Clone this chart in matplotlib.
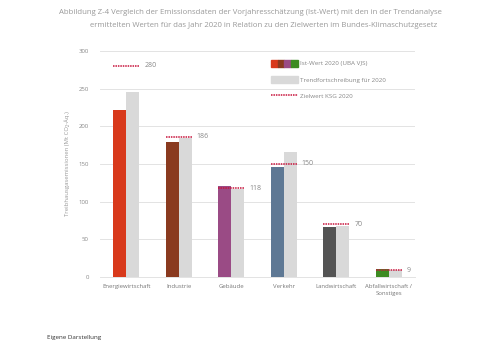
import matplotlib.pyplot as plt
from matplotlib.patches import Patch
from matplotlib.lines import Line2D
from matplotlib.legend_handler import HandlerTuple
import numpy as np

plt.rcParams['font.family'] = ['Open Sans', 'DejaVu Sans']

# Daten
sektoren = ['Energiewirtschaft', 'Industrie', 'Gebäude', 'Verkehr',
            'Landwirtschaft', 'Abfallwirtschaft /\nSonstiges']
ist_wert = [221, 179, 121, 146, 66, 11]
trend = [245, 184, 117, 166, 68, 10]
ziel = [280, 186, 118, 150, 70, 9]
farben = ['#D8391B', '#8A3A1F', '#9A4B85', '#5E7894', '#545454', '#3D8B22']
grau = '#D9D9D9'
ziel_farbe = '#C8143C'

fig = plt.figure(figsize=(5, 3.53), dpi=100)
ax = fig.add_axes([0.2, 0.215, 0.63, 0.641])

x = np.arange(len(sektoren))
w = 0.245
ax.bar(x - w / 2, ist_wert, width=w, color=farben, zorder=3)
ax.bar(x + w / 2, trend, width=w, color=grau, zorder=3)

# Zielwerte als gepunktete Linien
for i, z in enumerate(ziel):
    ax.plot([x[i] - w, x[i] + w], [z, z], color=ziel_farbe, linestyle=(0, (1, 0.6)),
            linewidth=1.1, zorder=4)
    ax.text(x[i] + w + 0.1, z, str(z), fontsize=5, color='#888888',
            va='center', ha='left')

ax.set_xlim(-0.5, 5.5)
ax.set_ylim(0, 300)
ax.set_yticks(range(0, 301, 50))
ax.set_xticks(x)
ax.set_xticklabels(sektoren, fontsize=4.3, color='#777777', linespacing=1.6)
ax.tick_params(axis='y', labelsize=4.3, labelcolor='#888888', length=0, pad=8)
ax.tick_params(axis='x', length=0, pad=5)
ax.grid(axis='y', color='#E3E3E3', linewidth=0.7, zorder=0)
for s in ['top', 'right', 'left']:
    ax.spines[s].set_visible(False)
ax.spines['bottom'].set_color('#E3E3E3')
ax.spines['bottom'].set_linewidth(0.7)
ax.set_ylabel('Treibhausgasemissionen (Mt CO₂-Äq.)', fontsize=4.3, color='#999999', labelpad=6)

# Legende
ist_handle = tuple(Patch(color=c) for c in farben[:3] + [farben[5]])
trend_handle = Patch(color=grau)
ziel_handle = Line2D([], [], color=ziel_farbe, linestyle=(0, (1, 0.6)), linewidth=1.1)
leg = ax.legend([ist_handle, trend_handle, ziel_handle],
                ['Ist-Wert 2020 (UBA VJS)', 'Trendfortschreibung für 2020', 'Zielwert KSG 2020'],
                handler_map={tuple: HandlerTuple(ndivide=None, pad=0)},
                loc='upper left', bbox_to_anchor=(0.525, 0.985), frameon=False,
                fontsize=4.5, handlelength=4.3, handleheight=1.3, labelspacing=1.5,
                handletextpad=0.3, labelcolor='#888888')

# Titel
fig.text(0.5, 0.965, 'Abbildung Z-4 Vergleich der Emissionsdaten der Vorjahresschätzung (Ist-Wert) mit den in der Trendanalyse',
         ha='center', va='center', fontsize=5.6, color='#999999')
fig.text(0.528, 0.928, 'ermittelten Werten für das Jahr 2020 in Relation zu den Zielwerten im Bundes-Klimaschutzgesetz',
         ha='center', va='center', fontsize=5.6, color='#999999')

fig.text(0.094, 0.043, 'Eigene Darstellung', ha='left', va='center', fontsize=4.5, color='#333333')

fig.savefig('out.png', dpi=100, facecolor='white')
